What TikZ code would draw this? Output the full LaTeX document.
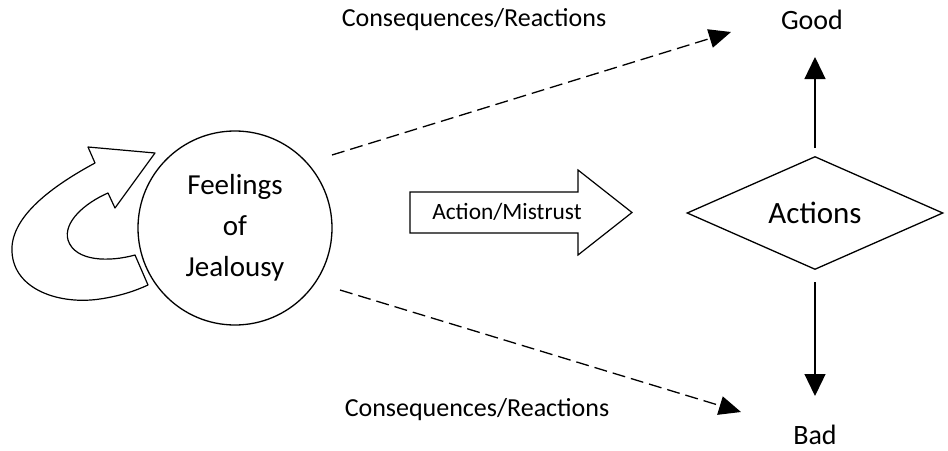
\documentclass[tikz,border=0pt]{standalone}
\usepackage{fontspec}
\setmainfont{Carlito}
\usetikzlibrary{arrows.meta,shapes.geometric}
\begin{document}
\begin{tikzpicture}[x=1pt,y=-1pt,line width=1.3pt,
  lbl/.style={font=\fontsize{26}{31}\selectfont, inner sep=0pt},
  endlbl/.style={font=\fontsize{28}{33}\selectfont, inner sep=0pt},
  dasharrow/.style={dash pattern=on 13pt off 6pt, -{Triangle[length=22pt,width=19pt]}},
  solidarrow/.style={-{Triangle[length=22pt,width=21pt]}},
  feel/.style={draw, circle, minimum size=194pt, inner sep=0pt, align=center,
    font=\fontsize{29}{41}\selectfont},
  decision/.style={draw, diamond, aspect=2.2, minimum width=256pt, minimum height=113pt,
    inner sep=0pt, font=\fontsize{31}{36}\selectfont}]
\useasboundingbox (0,0) rectangle (948,450);

% looping arrow
\draw[line width=1.2pt, line join=round] (155,153) -- (88,147) -- (95,163)
  .. controls (45,190) and (10,220) .. (12,252)
  .. controls (14,290) and (60,305) .. (100,299)
  .. controls (120,296) and (135,291) .. (148,285)
  -- (135,255)
  .. controls (110,262) and (75,262) .. (68,240)
  .. controls (63,222) and (85,203) .. (108,193)
  -- (115,208) -- cycle;

% circle
\node[feel, fill=white] (feel) at (235,228) {Feelings\\of\\Jealousy};

% block arrow
\draw[line width=1.2pt, line join=miter] (410,192) -- (578,192) -- (578,170) -- (632,212.5)
  -- (578,255) -- (578,233) -- (410,233) -- cycle;
\node[font=\fontsize{23.4}{28}\selectfont, inner sep=0pt] (act) at (507,212) {Action/Mistrust};

% diamond
\node[decision] (dec) at (815,213) {Actions};

% labels
\node[lbl] (c1) at (474,20) {Consequences/Reactions};
\node[lbl] (c2) at (477,410) {Consequences/Reactions};
\node[endlbl] (good) at (812,20) {Good};
\node[endlbl] (bad) at (815,435) {Bad};

% dashed arrows
\coordinate (u1) at (332,155);
\coordinate (u2) at (731,32);
\coordinate (l1) at (340,290);
\coordinate (l2) at (741,412);
\draw[dasharrow] (u1) -- (u2);
\draw[dasharrow] (l1) -- (l2);

% vertical arrows
\coordinate (g1) at (815,148);
\coordinate (g2) at (815,57);
\coordinate (b1) at (815,282);
\coordinate (b2) at (815,396);
\draw[solidarrow] (g1) -- (g2);
\draw[solidarrow] (b1) -- (b2);
\end{tikzpicture}
\end{document}
